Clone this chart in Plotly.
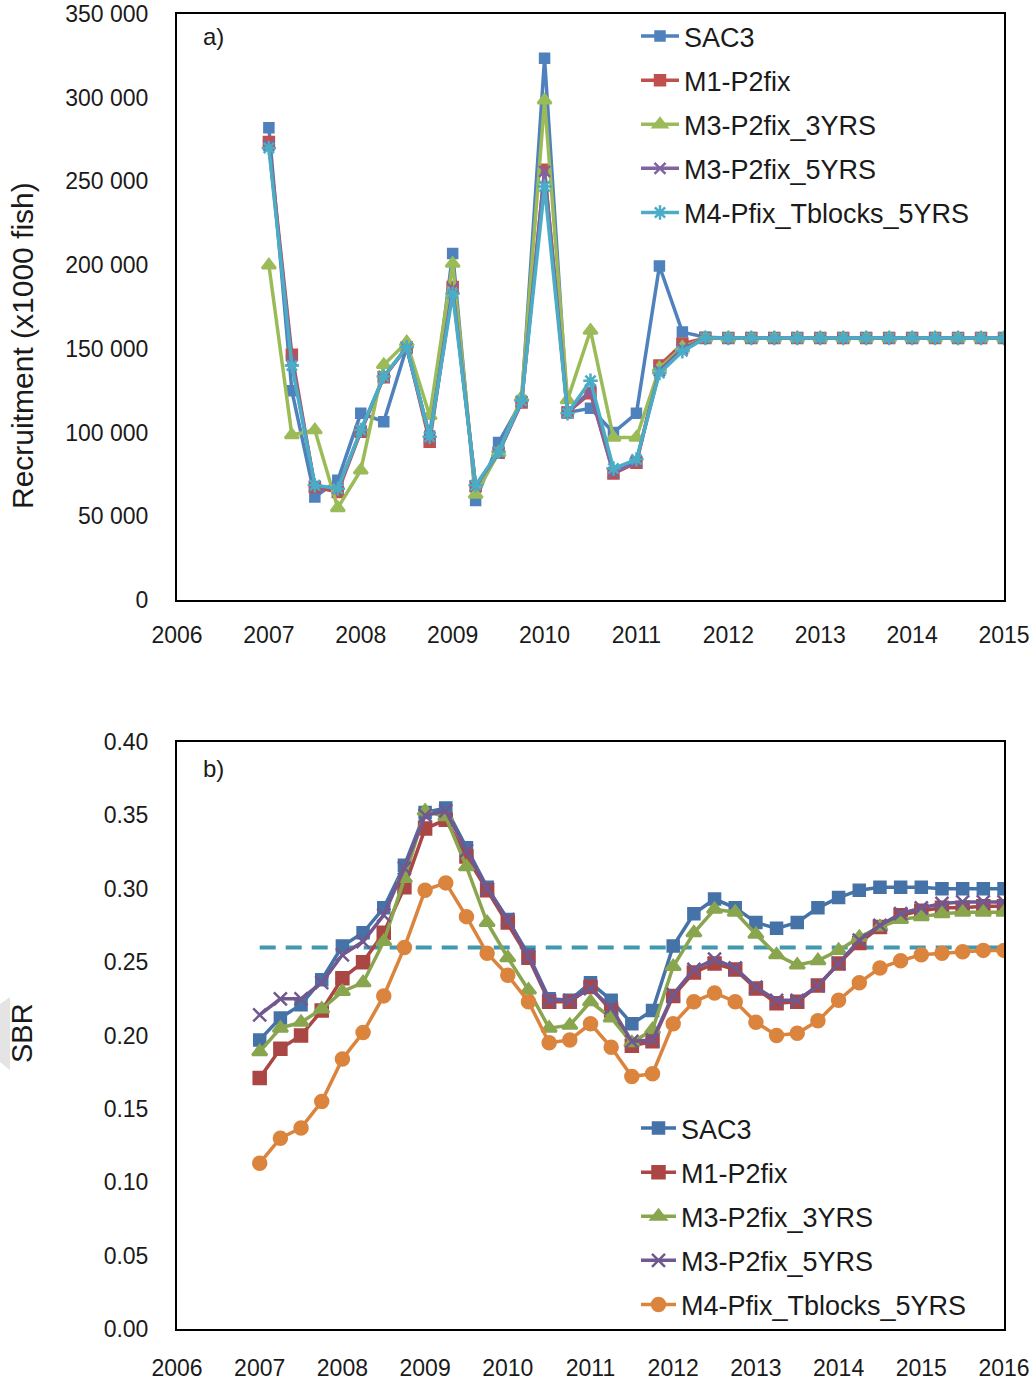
import plotly.graph_objects as go

# ---------------- data ----------------
# panel a) recruitment, quarterly from 2007.00 to 2015.00
rec_quarters = [2007.00, 2007.25, 2007.50, 2007.75, 2008.00, 2008.25, 2008.50, 2008.75,
                2009.00, 2009.25, 2009.50, 2009.75, 2010.00, 2010.25, 2010.50, 2010.75,
                2011.00, 2011.25, 2011.50, 2011.75, 2012.00, 2012.25, 2012.50, 2012.75,
                2013.00, 2013.25, 2013.50, 2013.75, 2014.00, 2014.25, 2014.50, 2014.75,
                2015.00]

rec_sac3 = [282000, 125000, 61500, 71500, 111500, 106500, 151000, 98000,
            207000, 59500, 94000, 118500, 323500, 112000, 114500, 100000,
            111500, 199500, 160000, 157000, 156500, 156500, 156500, 156500,
            156500, 156500, 156500, 156500, 156500, 156500, 156500, 156500,
            156500]
rec_m1 = [273500, 146500, 67500, 64500, 100500, 133000, 151000, 94500,
          187000, 68000, 88000, 118000, 257000, 112000, 123500, 75500,
          82000, 140000, 153000, 156500, 156500, 156500, 156500, 156500,
          156500, 156500, 156500, 156500, 156500, 156500, 156500, 156500,
          156500]
rec_m3_3 = [200000, 98500, 101500, 55000, 77500, 140500, 154000, 110000,
            201000, 63000, 88000, 121000, 298500, 119500, 161000, 97000,
            97000, 138500, 151000, 156500, 156500, 156500, 156500, 156500,
            156500, 156500, 156500, 156500, 156500, 156500, 156500, 156500,
            156500]
rec_m3_5 = [271500, 143000, 68000, 66500, 101000, 133500, 150500, 97000,
            186000, 68000, 88000, 118500, 256000, 112000, 125000, 76000,
            82500, 137000, 150000, 156500, 156500, 156500, 156500, 156500,
            156500, 156500, 156500, 156500, 156500, 156500, 156500, 156500,
            156500]
rec_m4 = [270000, 140000, 68500, 66500, 101500, 133500, 151000, 97500,
          183000, 68500, 88500, 119000, 247000, 111500, 131000, 78500,
          84000, 135500, 148500, 156500, 156500, 156500, 156500, 156500,
          156500, 156500, 156500, 156500, 156500, 156500, 156500, 156500,
          156500]

# panel b) spawning biomass ratio, quarterly from 2007.00 to 2016.00
sbr_quarters = [2007.00, 2007.25, 2007.50, 2007.75, 2008.00, 2008.25, 2008.50, 2008.75,
                2009.00, 2009.25, 2009.50, 2009.75, 2010.00, 2010.25, 2010.50, 2010.75,
                2011.00, 2011.25, 2011.50, 2011.75, 2012.00, 2012.25, 2012.50, 2012.75,
                2013.00, 2013.25, 2013.50, 2013.75, 2014.00, 2014.25, 2014.50, 2014.75,
                2015.00, 2015.25, 2015.50, 2015.75, 2016.00]

sbr_sac3 = [0.197, 0.212, 0.221, 0.238, 0.261, 0.270, 0.287, 0.316,
            0.352, 0.355, 0.328, 0.301, 0.279, 0.255, 0.225, 0.224,
            0.236, 0.224, 0.208, 0.217, 0.261, 0.283, 0.293, 0.287,
            0.277, 0.273, 0.277, 0.287, 0.294, 0.299, 0.301, 0.301,
            0.301, 0.300, 0.300, 0.300, 0.300]
sbr_m1 = [0.171, 0.191, 0.200, 0.217, 0.239, 0.250, 0.270, 0.301,
          0.341, 0.347, 0.322, 0.299, 0.277, 0.253, 0.223, 0.223,
          0.233, 0.217, 0.193, 0.196, 0.227, 0.243, 0.249, 0.245,
          0.232, 0.222, 0.223, 0.234, 0.249, 0.263, 0.274, 0.282,
          0.285, 0.287, 0.287, 0.288, 0.288]
sbr_m3_3 = [0.189, 0.205, 0.209, 0.218, 0.230, 0.236, 0.264, 0.307,
            0.353, 0.349, 0.315, 0.277, 0.253, 0.231, 0.205, 0.207,
            0.223, 0.212, 0.195, 0.204, 0.247, 0.270, 0.286, 0.284,
            0.269, 0.255, 0.248, 0.251, 0.258, 0.267, 0.274, 0.279,
            0.281, 0.283, 0.284, 0.284, 0.284]
sbr_m3_5 = [0.214, 0.225, 0.225, 0.236, 0.255, 0.264, 0.282, 0.314,
            0.350, 0.353, 0.326, 0.300, 0.279, 0.254, 0.224, 0.224,
            0.232, 0.219, 0.196, 0.197, 0.228, 0.245, 0.252, 0.246,
            0.233, 0.224, 0.224, 0.234, 0.249, 0.265, 0.275, 0.283,
            0.287, 0.290, 0.291, 0.291, 0.291]
sbr_m4 = [0.113, 0.130, 0.137, 0.155, 0.184, 0.202, 0.227, 0.260,
          0.299, 0.304, 0.281, 0.256, 0.241, 0.223, 0.195, 0.197,
          0.208, 0.192, 0.172, 0.174, 0.208, 0.223, 0.229, 0.223,
          0.209, 0.200, 0.2015, 0.210, 0.224, 0.236, 0.246, 0.251,
          0.255, 0.256, 0.257, 0.258, 0.258]

# reference SBR level (dashed line)
sbr_ref_years = [2007, 2016]
sbr_ref_level = [0.26, 0.26]

series_names = ["SAC3", "M1-P2fix", "M3-P2fix_3YRS", "M3-P2fix_5YRS", "M4-Pfix_Tblocks_5YRS"]

# axis ticks
rec_year_ticks = [2006, 2007, 2008, 2009, 2010, 2011, 2012, 2013, 2014, 2015]
rec_y_ticks = [0, 50000, 100000, 150000, 200000, 250000, 300000, 350000]
rec_y_labels = ["0", "50 000", "100 000", "150 000", "200 000", "250 000", "300 000", "350 000"]
sbr_year_ticks = [2006, 2007, 2008, 2009, 2010, 2011, 2012, 2013, 2014, 2015, 2016]
sbr_y_ticks = [0.00, 0.05, 0.10, 0.15, 0.20, 0.25, 0.30, 0.35, 0.40]
sbr_y_labels = ["0.00", "0.05", "0.10", "0.15", "0.20", "0.25", "0.30", "0.35", "0.40"]

# ---------------- geometry ----------------
W, H = 1032, 1383
L, R, T, B = 177, 28, 14, 54
PW = W - L - R
PH = H - T - B


def px_x(px):
    return (px - L) / PW


def px_y(py):
    return (H - B - py) / PH


FONT = "Liberation Sans, Arial, sans-serif"
TICK_FONT = dict(family=FONT, size=23, color="#1a1a1a")
LEGEND_FONT = dict(family=FONT, size=27, color="#1a1a1a")

fig = go.Figure()

# ---------------- panel a ----------------
top_styles = [
    dict(color="#4F81BD", symbol="square", size=9),
    dict(color="#C0504D", symbol="square", size=10),
    dict(color="#9BBB59", symbol="triangle-up", size=12),
    dict(color="#8064A2", symbol="x-thin-open", size=11),
    dict(color="#4BACC6", symbol="asterisk-open", size=12),
]
for name, vals, st in zip(series_names, [rec_sac3, rec_m1, rec_m3_3, rec_m3_5, rec_m4], top_styles):
    fig.add_trace(go.Scatter(
        x=rec_quarters, y=vals, name=name, mode="lines+markers",
        xaxis="x", yaxis="y", legend="legend", legendgroup="a_" + name,
        line=dict(color=st["color"], width=3.5),
        marker=dict(symbol=st["symbol"], size=st["size"], color=st["color"],
                    line=dict(color=st["color"], width=2.5)),
    ))

# ---------------- panel b ----------------
fig.add_trace(go.Scatter(
    x=sbr_ref_years, y=sbr_ref_level, mode="lines", showlegend=False,
    xaxis="x2", yaxis="y2", hoverinfo="skip",
    line=dict(color="#4198AF", width=4, dash="16px,10px"),
))
bot_styles = [
    dict(color="#4572A7", symbol="square", size=11),
    dict(color="#AA4643", symbol="square", size=12),
    dict(color="#89A54E", symbol="triangle-up", size=13),
    dict(color="#71588F", symbol="x-thin-open", size=13),
    dict(color="#DB843D", symbol="circle", size=13),
]
for name, vals, st in zip(series_names, [sbr_sac3, sbr_m1, sbr_m3_3, sbr_m3_5, sbr_m4], bot_styles):
    fig.add_trace(go.Scatter(
        x=sbr_quarters, y=vals, name=name, mode="lines+markers",
        xaxis="x2", yaxis="y2", legend="legend2", legendgroup="b_" + name,
        line=dict(color=st["color"], width=3.5),
        marker=dict(symbol=st["symbol"], size=st["size"], color=st["color"],
                    line=dict(color=st["color"], width=2.5)),
    ))

top_dom = [px_y(600), px_y(14)]
bot_dom = [0, px_y(742)]

frame = dict(showline=True, linecolor="black", linewidth=2, mirror=True,
             showgrid=False, zeroline=False, automargin=False)
hidden_ticks = dict(ticks="outside", ticklen=12, tickwidth=2, tickcolor="rgba(0,0,0,0)")
tick_only = dict(showticklabels=False, ticks="outside", ticklen=12, tickwidth=2,
                 tickcolor="black", showline=False, showgrid=False, zeroline=False,
                 automargin=False, tickmode="array")

fig.update_layout(
    width=W, height=H,
    margin=dict(l=L, r=R, t=T, b=B, autoexpand=False),
    paper_bgcolor="white", plot_bgcolor="white",
    font=dict(family=FONT, color="#1a1a1a"),
    showlegend=True,
    # panel a axes
    xaxis=dict(domain=[0, 1], anchor="y", range=[2006, 2015], tickmode="array",
               tickvals=rec_year_ticks, ticktext=[str(v) for v in rec_year_ticks],
               tickfont=TICK_FONT, ticklabelstandoff=1, **frame, **hidden_ticks),
    yaxis=dict(domain=top_dom, anchor="x", range=[0, 350000], tickmode="array",
               tickvals=rec_y_ticks, ticktext=rec_y_labels,
               tickfont=TICK_FONT, ticklabelstandoff=10, **frame, **hidden_ticks),
    # visible tick marks on the interior values only
    xaxis3=dict(overlaying="x", anchor="y", side="bottom", range=[2006, 2015],
                tickvals=rec_year_ticks[1:-1], **tick_only),
    yaxis3=dict(overlaying="y", anchor="x", side="left", range=[0, 350000],
                tickvals=rec_y_ticks[1:-1], **tick_only),
    # panel b axes
    xaxis2=dict(domain=[0, 1], anchor="y2", range=[2006, 2016], tickmode="array",
                tickvals=sbr_year_ticks, ticktext=[str(v) for v in sbr_year_ticks],
                tickfont=TICK_FONT, ticklabelstandoff=5, **frame, **hidden_ticks),
    yaxis2=dict(domain=bot_dom, anchor="x2", range=[0, 0.40], tickmode="array",
                tickvals=sbr_y_ticks, ticktext=sbr_y_labels,
                tickfont=TICK_FONT, ticklabelstandoff=10, **frame, **hidden_ticks),
    xaxis4=dict(overlaying="x2", anchor="y2", side="bottom", range=[2006, 2016],
                tickvals=sbr_year_ticks[1:-1], **tick_only),
    yaxis4=dict(overlaying="y2", anchor="x2", side="left", range=[0, 0.40],
                tickvals=sbr_y_ticks[1:-1], **tick_only),
    legend=dict(x=px_x(636), y=px_y(12), xanchor="left", yanchor="top",
                bgcolor="rgba(0,0,0,0)", borderwidth=0, font=LEGEND_FONT,
                traceorder="grouped", tracegroupgap=6, itemsizing="trace",
                itemwidth=38),
    legend2=dict(x=px_x(636), y=px_y(1104), xanchor="left", yanchor="top",
                 bgcolor="rgba(0,0,0,0)", borderwidth=0, font=LEGEND_FONT,
                 traceorder="grouped", tracegroupgap=6, itemsizing="trace",
                 itemwidth=35),
)

# panel letters and axis titles
fig.add_annotation(text="a)", xref="paper", yref="paper", x=px_x(201), y=px_y(36),
                   xanchor="left", yanchor="middle", showarrow=False,
                   font=dict(family=FONT, size=24, color="#1a1a1a"))
fig.add_annotation(text="b)", xref="paper", yref="paper", x=px_x(201), y=px_y(768),
                   xanchor="left", yanchor="middle", showarrow=False,
                   font=dict(family=FONT, size=24, color="#1a1a1a"))
fig.add_annotation(text="Recruitment (x1000 fish)", xref="paper", yref="paper",
                   x=px_x(22), y=px_y(346), xanchor="center", yanchor="middle",
                   textangle=-90, showarrow=False,
                   font=dict(family=FONT, size=30, color="#1a1a1a"))
fig.add_annotation(text="SBR", xref="paper", yref="paper",
                   x=px_x(22), y=px_y(1033), xanchor="center", yanchor="middle",
                   textangle=-90, showarrow=False,
                   font=dict(family=FONT, size=29, color="#1a1a1a"))

# faint grey tab behind the SBR label
tab = "M {0},{1} L {2},{3} L {2},{4} L {0},{5} Z".format(
    px_x(0), px_y(1004), px_x(10), px_y(997), px_y(1070), px_y(1062))
fig.add_shape(type="path", path=tab, xref="paper", yref="paper",
              fillcolor="#e4e4e4", line=dict(width=0), layer="below")

fig.write_html("out.html")
